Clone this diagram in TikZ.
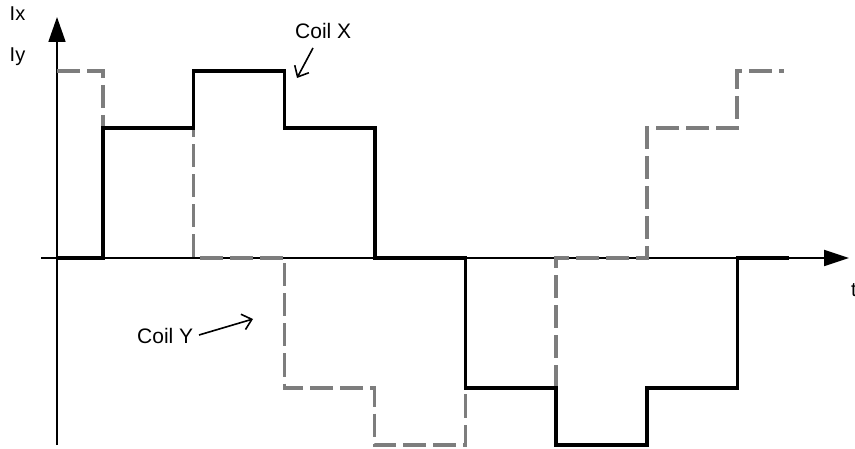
\documentclass[tikz,border=0pt]{standalone}
\usepackage{fontspec}
\setmainfont{Liberation Sans}
\usetikzlibrary{arrows.meta}
\definecolor{ygray}{RGB}{125,125,125}
\tikzset{
  axisline/.style={line width=1.8pt, black},
  coilx/.style={line width=3.2pt, black},
  coily/.style={line width=3.2pt, ygray, dash pattern=on 23pt off 7pt},
  pointer/.style={line width=1.6pt, black, -{Straight Barb[length=9pt,width=16pt]}},
  axlabel/.style={inner sep=0pt, anchor=base west, font=\fontsize{20}{24}\selectfont},
  coillabel/.style={inner sep=0pt, anchor=base west, font=\fontsize{21}{25}\selectfont},
}
\begin{document}
\begin{tikzpicture}[x=1pt,y=-1pt]
\useasboundingbox (0,0) rectangle (855,449);
% axes
\coordinate (xs) at (41,258);
\coordinate (xe) at (849,258);
\coordinate (ys) at (57,445);
\coordinate (ye) at (57,17);
\draw[axisline, -{Triangle[length=25pt,width=16pt]}] (xs) -- (xe);
\draw[axisline, -{Triangle[length=25pt,width=17pt]}] (ys) -- (ye);
% coil Y (dashed gray)
\draw[coily] (57,71) -- (103,71) -- (103,128) -- (193.5,128) -- (193.5,258) -- (284.5,258)
  -- (284.5,388) -- (374.5,388) -- (374.5,445) -- (465.5,445) -- (465.5,388) -- (556,388)
  -- (556,258) -- (647,258) -- (647,128) -- (737,128) -- (737,71) -- (784,71);
% coil X (solid black)
\draw[coilx] (57,258) -- (103,258) -- (103,128) -- (193.5,128) -- (193.5,71) -- (284.5,71)
  -- (284.5,128) -- (375,128) -- (375,258) -- (465.5,258) -- (465.5,388) -- (556,388)
  -- (556,445) -- (647,445) -- (647,388) -- (737.5,388) -- (737.5,258) -- (789,258);
% labels
\node[axlabel] (ix) at (9.5,21) {Ix};
\node[axlabel] (iy) at (9.5,61.5) {Iy};
\node[axlabel] (t) at (851,297) {t};
\node[coillabel] (cx) at (295,39) {Coil X};
\node[coillabel] (cy) at (137,344) {Coil Y};
% pointers
\coordinate (cxs) at (313,48);
\coordinate (cxe) at (297,78);
\coordinate (cys) at (199,335);
\coordinate (cye) at (253,319);
\draw[pointer] (cxs) -- (cxe);
\draw[pointer] (cys) -- (cye);
\end{tikzpicture}
\end{document}
